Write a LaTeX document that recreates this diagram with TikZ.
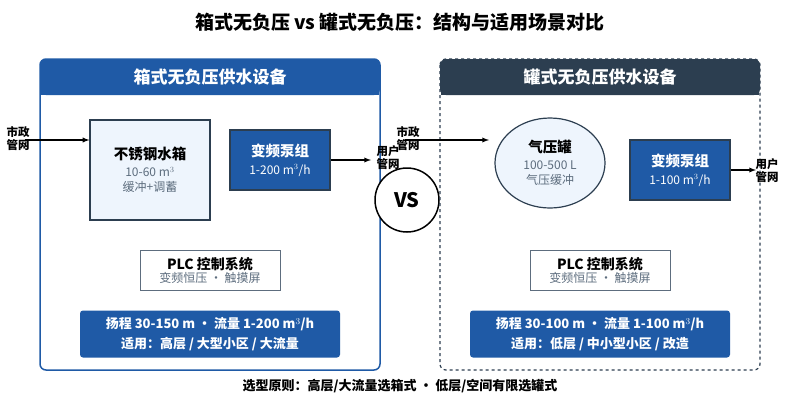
\documentclass[tikz,border=0pt]{standalone}
\usepackage{fontspec}
\setmainfont{Noto Sans CJK SC}
\usetikzlibrary{shapes.geometric}
\definecolor{blueA}{HTML}{1F5AA6}
\definecolor{navy}{HTML}{2C3E50}
\definecolor{paleblue}{HTML}{EEF5FD}
\definecolor{greyline}{HTML}{5D6D7E}
\tikzset{
  panel/.style={rounded corners=6pt, line width=1.5pt},
  item/.style={draw=navy, line width=1.2pt, align=center},
  pump/.style={item, fill=blueA, text=white, minimum width=100pt, minimum height=60pt},
  plc/.style={draw=greyline, line width=1pt, fill=white, align=center, minimum width=140pt, minimum height=40pt, inner sep=1pt},
  spec/.style={fill=blueA, rounded corners=3pt, text=white, align=center, minimum width=260pt, minimum height=47pt, font=\bfseries\fontsize{13}{20}\selectfont},
  tag/.style={font=\bfseries\fontsize{11.5}{13}\selectfont, align=center, inner sep=0pt},
  flow/.style={-latex, line width=1.3pt}
}
\newcommand{\sub}[1]{{\fontsize{12}{19}\selectfont\color{greyline}#1}}
\begin{document}
\begin{tikzpicture}[x=1pt,y=-1pt]
	\useasboundingbox (0,0) rectangle (800,400);
	% title
	\node[font=\bfseries\fontsize{19}{21}\selectfont] (title) at (400,22) {箱式无负压 vs 罐式无负压：结构与适用场景对比};
	
	% left panel: box type
	\draw[panel, draw=blueA, fill=white] (40,59) rectangle (380,370);
	\fill[blueA, rounded corners=6pt] (40,59) rectangle (380,95);
	\fill[blueA] (41,80) rectangle (379,95);
	\node[text=white, font=\bfseries\fontsize{17}{19}\selectfont] (lhead) at (210,77) {箱式无负压供水设备};
	
	\node[item, fill=paleblue, minimum width=120pt, minimum height=100pt] (tank) at (150,170)
		{{\bfseries\fontsize{14.5}{22}\selectfont 不锈钢水箱}\\[5pt] \sub{10-60 m$^3$}\\[3pt] \sub{缓冲+调蓄}};
	\node[pump] (lpump) at (280,160)
		{{\bfseries\fontsize{14.5}{22}\selectfont 变频泵组}\\[6pt] {\fontsize{12}{19}\selectfont 1-200 m$^3$/h}};
	\node[tag] (lsrc) at (18,139) {市政\\管网};
	\node[tag] (ldst) at (388,158) {用户\\管网};
	\draw[flow] (25,140) -- (tank.west |- 0,140);
	\draw[flow] (lpump.east) -- (371,160);
	
	\node[plc] (lplc) at (210,270)
		{{\bfseries\fontsize{14}{17}\selectfont PLC 控制系统}\\[1pt] {\fontsize{12}{15}\selectfont\color{greyline}变频恒压 · 触摸屏}};
	\node[spec] (lspec) at (210,334) {扬程 30-150 m · 流量 1-200 m$^3$/h\\ 适用：高层 / 大型小区 / 大流量};
	
	% versus
	\node[circle, draw, line width=1.5pt, fill=white, minimum size=64pt, font=\bfseries\fontsize{20}{22}\selectfont] (vs) at (407,200) {VS};
	
	% right panel: tank type
	\draw[panel, draw=navy, dashed, line width=1.2pt] (440,59) rectangle (760,370);
	\fill[navy, rounded corners=6pt] (440,59) rectangle (760,95);
	\fill[navy] (441,80) rectangle (759,95);
	\node[text=white, font=\bfseries\fontsize{17}{19}\selectfont] (rhead) at (600,77) {罐式无负压供水设备};
	
	\node[ellipse, item, fill=paleblue, minimum width=110pt, minimum height=90pt, inner sep=0pt] (vessel) at (550,163)
		{{\bfseries\fontsize{14.5}{22}\selectfont 气压罐}\\[5pt] \sub{100-500 L}\\[3pt] \sub{气压缓冲}};
	\node[pump] (rpump) at (680,170)
		{{\bfseries\fontsize{14.5}{22}\selectfont 变频泵组}\\[6pt] {\fontsize{12}{19}\selectfont 1-100 m$^3$/h}};
	\node[tag] (rsrc) at (408,139) {市政\\管网};
	\node[tag] (rdst) at (767,171) {用户\\管网};
	\draw[flow] (405,140) -- (489,140);
	\draw[flow] (rpump.east) -- (756,170);
	
	\node[plc] (rplc) at (600,270)
		{{\bfseries\fontsize{14}{17}\selectfont PLC 控制系统}\\[1pt] {\fontsize{12}{15}\selectfont\color{greyline}变频恒压 · 触摸屏}};
	\node[spec] (rspec) at (600,334) {扬程 30-100 m · 流量 1-100 m$^3$/h\\ 适用：低层 / 中小型小区 / 改造};
	
	% footer
	\node[font=\bfseries\fontsize{13}{15}\selectfont] (rule) at (400,386) {选型原则：高层/大流量选箱式 · 低层/空间有限选罐式};
\end{tikzpicture}
\end{document}
